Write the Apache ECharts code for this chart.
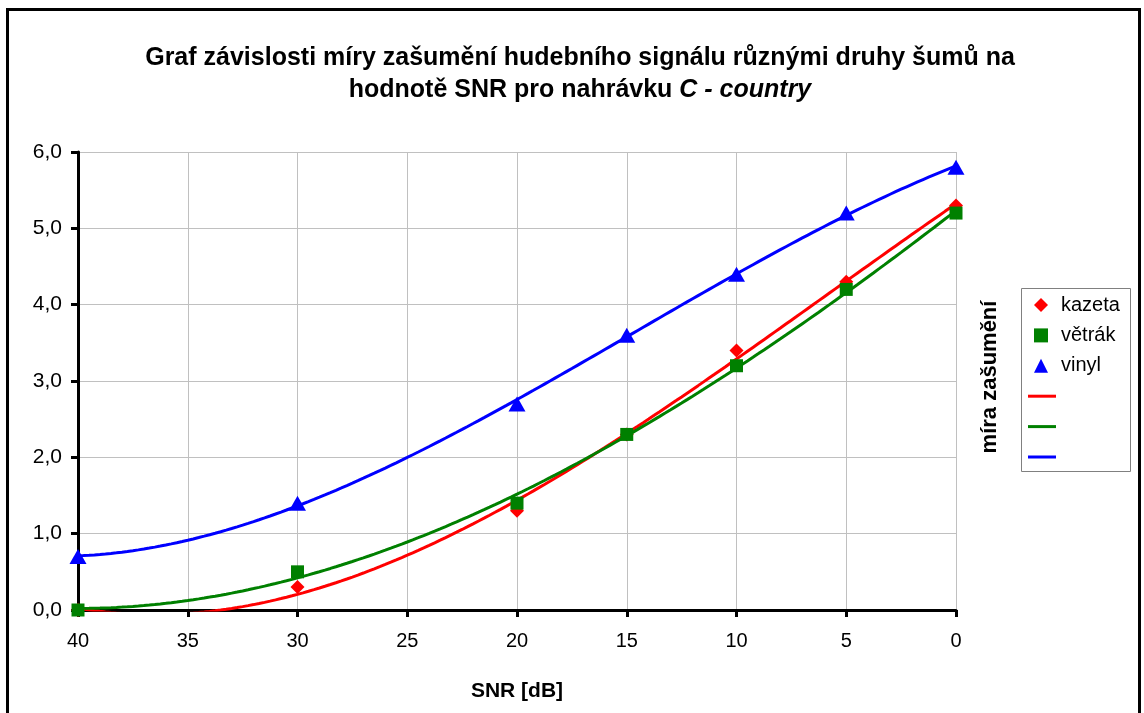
<!DOCTYPE html>
<html><head><meta charset="utf-8">
<script src="https://cdn.jsdelivr.net/npm/echarts@6/dist/echarts.min.js"></script>
<style>html,body{margin:0;padding:0;background:#fff;}#c{width:1144px;height:713px;}</style>
</head><body><div id="c"></div>
<script>
// SNR values [dB]
const snr = [40, 30, 20, 15, 10, 5, 0];
const kazeta = [0.0, 0.3, 1.3, 2.3, 3.4, 4.3, 5.3];
const vetrak = [0.0, 0.5, 1.4, 2.3, 3.2, 4.2, 5.2];
const vinyl  = [0.7, 1.4, 2.7, 3.6, 4.4, 5.2, 5.8];
const xTicks = [40, 35, 30, 25, 20, 15, 10, 5, 0];
const yTicks = [0, 1, 2, 3, 4, 5, 6];

// least-squares polynomial trendline (order 3), like the spreadsheet's trendline
function polyfit(xs, ys, order) {
  const n = order + 1;
  const A = [], b = [];
  for (let i = 0; i < n; i++) {
    A.push(new Array(n).fill(0)); b.push(0);
  }
  for (let k = 0; k < xs.length; k++) {
    for (let i = 0; i < n; i++) {
      b[i] += ys[k] * Math.pow(xs[k], i);
      for (let j = 0; j < n; j++) A[i][j] += Math.pow(xs[k], i + j);
    }
  }
  for (let i = 0; i < n; i++) {
    let p = i;
    for (let r = i + 1; r < n; r++) if (Math.abs(A[r][i]) > Math.abs(A[p][i])) p = r;
    [A[i], A[p]] = [A[p], A[i]]; [b[i], b[p]] = [b[p], b[i]];
    for (let r = i + 1; r < n; r++) {
      const f = A[r][i] / A[i][i];
      for (let c = i; c < n; c++) A[r][c] -= f * A[i][c];
      b[r] -= f * b[i];
    }
  }
  const coef = new Array(n).fill(0);
  for (let i = n - 1; i >= 0; i--) {
    let s = b[i];
    for (let j = i + 1; j < n; j++) s -= A[i][j] * coef[j];
    coef[i] = s / A[i][i];
  }
  return coef;
}
function trend(ys) {
  const c = polyfit(snr, ys, 3);
  const xmin = Math.min(...snr), xmax = Math.max(...snr);
  const out = [];
  for (let x = xmin; x <= xmax + 1e-9; x += 0.25) {
    let y = 0;
    for (let i = 0; i < c.length; i++) y += c[i] * Math.pow(x, i);
    out.push([x, y]);
  }
  return out;
}
const pts = ys => snr.map((x, i) => [x, ys[i]]);

const RED = '#ff0000', GREEN = '#008000', BLUE = '#0000ff';
const FONT = 'Liberation Sans, Arial, sans-serif';
const LINE_ICON = 'path://M0,0 L28,0 L28,3 L0,3 Z';
const chart = echarts.init(document.getElementById('c'), null, {renderer: 'canvas'});
chart.setOption({
  animation: false,
  backgroundColor: '#ffffff',
  textStyle: {fontFamily: FONT},
  title: {
    left: 575, textAlign: 'center', top: 37,
    text: 'Graf závislosti míry zašumění hudebního signálu různými druhy šumů na\nhodnotě SNR pro nahrávku {i|C - country}',
    textStyle: {
      fontFamily: FONT, fontSize: 25, fontWeight: 'bold', color: '#000', lineHeight: 32,
      rich: {i: {fontFamily: FONT, fontSize: 25, fontWeight: 'bold', fontStyle: 'italic', color: '#000', lineHeight: 32}}
    }
  },
  grid: {left: 78, right: 188, top: 152, bottom: 103, containLabel: false},
  xAxis: {
    type: 'value', min: 0, max: 40, interval: 5, inverse: true,
    name: 'SNR [dB]', nameLocation: 'middle', nameGap: 71,
    nameTextStyle: {fontFamily: FONT, fontSize: 21, fontWeight: 'bold', color: '#000'},
    axisLine: {show: true, onZero: false, lineStyle: {color: '#000', width: 3}},
    axisTick: {show: true, length: 7, lineStyle: {color: '#000', width: 3}},
    axisLabel: {fontFamily: FONT, fontSize: 20, color: '#000', margin: 21},
    splitLine: {show: true, lineStyle: {color: '#c0c0c0', width: 1}}
  },
  yAxis: {
    type: 'value', min: 0, max: 6, interval: 1,
    axisLine: {show: true, onZero: false, lineStyle: {color: '#000', width: 3}},
    axisTick: {show: true, length: 7, lineStyle: {color: '#000', width: 3}},
    axisLabel: {fontFamily: FONT, fontSize: 21, color: '#000', margin: 16,
      formatter: v => v.toFixed(1).replace('.', ',')},
    splitLine: {show: true, lineStyle: {color: '#c0c0c0', width: 1}}
  },
  legend: [
    {
      orient: 'vertical', left: 1034, top: 295,
      itemWidth: 14, itemHeight: 14, itemGap: 10.4,
      padding: 0,
      textStyle: {fontFamily: FONT, fontSize: 20, color: '#000', lineHeight: 20, padding: [0, 0, 0, 8]},
      data: [
        {name: 'kazeta', icon: 'diamond'},
        {name: 'větrák', icon: 'rect'},
        {name: 'vinyl', icon: 'triangle'}
      ]
    },
    {
      orient: 'vertical', left: 1028, top: 386.2,
      itemWidth: 28, itemHeight: 3, itemGap: 10.4,
      padding: 0,
      textStyle: {fontFamily: FONT, fontSize: 20, color: '#000', lineHeight: 20},
      formatter: () => ' ',
      data: [
        {name: 'trend kazeta', icon: LINE_ICON},
        {name: 'trend větrák', icon: LINE_ICON},
        {name: 'trend vinyl', icon: LINE_ICON}
      ]
    }
  ],
  graphic: [
    {type: 'rect', shape: {x: 7.5, y: 9.5, width: 1132, height: 740}, style: {fill: 'none', stroke: '#000', lineWidth: 3}, z: 100},
    {type: 'rect', shape: {x: 1021.5, y: 288.5, width: 109, height: 183}, style: {fill: 'none', stroke: '#808080', lineWidth: 1}},
    {type: 'text', x: 990, y: 377, rotation: Math.PI / 2,
      style: {text: 'míra zašumění', font: 'bold 22px ' + FONT, fill: '#000', align: 'center', verticalAlign: 'middle'}}
  ],
  series: [
    {name: 'trend kazeta', type: 'line', data: trend(kazeta), showSymbol: false, symbol: 'none', smooth: false, clip: true,
      lineStyle: {color: RED, width: 3}, itemStyle: {color: RED}, z: 2},
    {name: 'trend větrák', type: 'line', data: trend(vetrak), showSymbol: false, symbol: 'none', smooth: false, clip: true,
      lineStyle: {color: GREEN, width: 3}, itemStyle: {color: GREEN}, z: 2},
    {name: 'trend vinyl', type: 'line', data: trend(vinyl), showSymbol: false, symbol: 'none', smooth: false, clip: true,
      lineStyle: {color: BLUE, width: 3}, itemStyle: {color: BLUE}, z: 2},
    {name: 'kazeta', type: 'scatter', data: pts(kazeta), symbol: 'diamond', symbolSize: [14, 14], itemStyle: {color: RED, opacity: 1}, z: 3, clip: false},
    {name: 'větrák', type: 'scatter', data: pts(vetrak), symbol: 'rect', symbolSize: 13, itemStyle: {color: GREEN, opacity: 1}, z: 4, clip: false},
    {name: 'vinyl', type: 'scatter', data: pts(vinyl), symbol: 'triangle', symbolSize: [17, 15], itemStyle: {color: BLUE, opacity: 1}, z: 5, clip: false}
  ]
});
</script></body></html>
